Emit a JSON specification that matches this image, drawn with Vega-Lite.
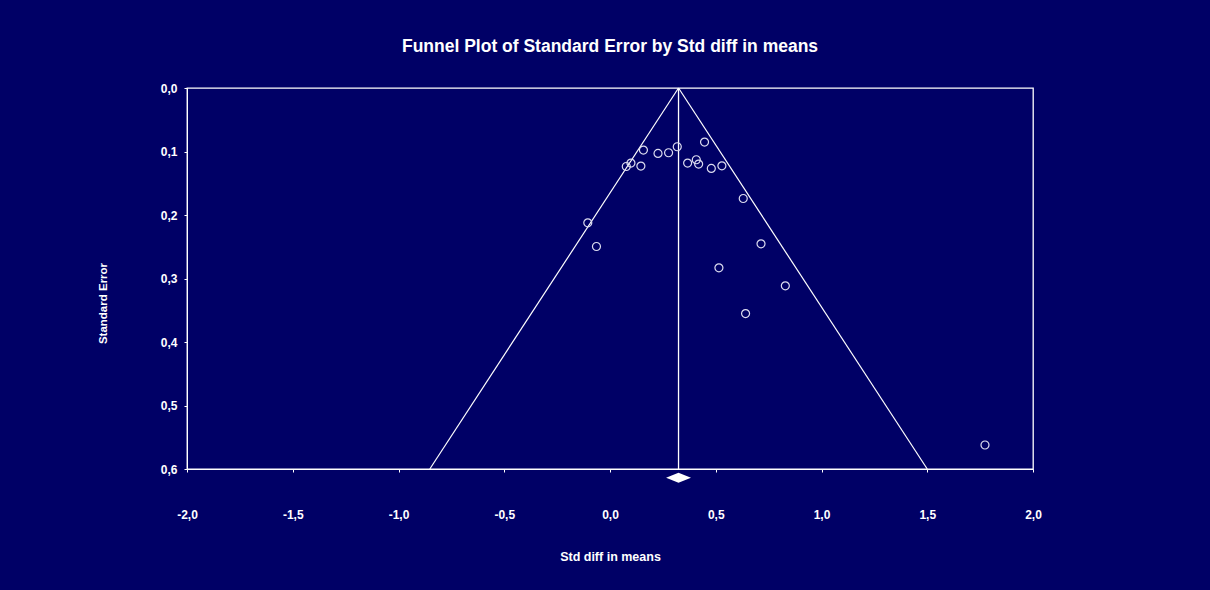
{
  "$schema": "https://vega.github.io/schema/vega-lite/v6.json",
  "width": 846,
  "height": 381,
  "autosize": {"type": "none"},
  "padding": {"left": 187, "top": 88, "right": 177, "bottom": 121},
  "background": "#000066",
  "title": {
    "text": "Funnel Plot of Standard Error by Std diff in means",
    "color": "white",
    "font": "Liberation Sans",
    "fontWeight": "bold",
    "fontSize": 17.5,
    "anchor": "middle",
    "frame": "group",
    "offset": 27
  },
  "config": {
    "view": {"stroke": "white", "strokeWidth": 1.3},
    "axis": {
      "grid": false,
      "domainColor": "white",
      "tickColor": "white",
      "labelColor": "white",
      "titleColor": "white",
      "labelFont": "Liberation Sans",
      "titleFont": "Liberation Sans",
      "labelFontWeight": "bold",
      "titleFontWeight": "bold",
      "labelFontSize": 12,
      "titleFontSize": 12.5,
      "tickSize": 3
    }
  },
  "datasets": {
    "studies": [
      {"smd": 0.158, "se": 0.0977},
      {"smd": 0.227, "se": 0.1031},
      {"smd": 0.277, "se": 0.1020},
      {"smd": 0.318, "se": 0.0925},
      {"smd": 0.447, "se": 0.0851},
      {"smd": 0.099, "se": 0.1182},
      {"smd": 0.077, "se": 0.1236},
      {"smd": 0.146, "se": 0.1229},
      {"smd": 0.367, "se": 0.1182},
      {"smd": 0.408, "se": 0.1130},
      {"smd": 0.419, "se": 0.1198},
      {"smd": 0.479, "se": 0.1267},
      {"smd": 0.529, "se": 0.1225},
      {"smd": 0.630, "se": 0.1740},
      {"smd": -0.105, "se": 0.2123},
      {"smd": -0.064, "se": 0.2496},
      {"smd": 0.714, "se": 0.2454},
      {"smd": 0.515, "se": 0.2832},
      {"smd": 0.829, "se": 0.3116},
      {"smd": 0.641, "se": 0.3552},
      {"smd": 1.773, "se": 0.5622}
    ],
    "funnel": [
      {"side": "left", "x": 0.324, "y": 0},
      {"side": "left", "x": -0.852, "y": 0.6},
      {"side": "right", "x": 0.324, "y": 0},
      {"side": "right", "x": 1.500, "y": 0.6}
    ],
    "mean": [
      {"x": 0.324, "y": 0, "y2": 0.6}
    ],
    "diamond": [
      {"x": 0.265, "y": 0.6137, "y2": 0.6137},
      {"x": 0.324, "y": 0.6058, "y2": 0.6216},
      {"x": 0.383, "y": 0.6137, "y2": 0.6137}
    ]
  },
  "layer": [
    {
      "data": {"name": "funnel"},
      "mark": {"type": "line", "color": "white", "strokeWidth": 1.2},
      "encoding": {
        "x": {
          "field": "x", "type": "quantitative",
          "scale": {"domain": [-2, 2], "nice": false, "zero": false},
          "axis": {
            "title": "Std diff in means",
            "values": [-2, -1.5, -1, -0.5, 0, 0.5, 1, 1.5, 2],
            "labelExpr": "replace(replace(format(datum.value, '.1f'), '.', ','), '\u2212', '-')",
            "labelPadding": 37,
            "titlePadding": 30,
            "tickSize": 3,
            "labelFlush": false
          }
        },
        "y": {
          "field": "y", "type": "quantitative",
          "scale": {"domain": [0, 0.6], "nice": false, "zero": false, "reverse": true},
          "axis": {
            "title": "Standard Error",
            "values": [0, 0.1, 0.2, 0.3, 0.4, 0.5, 0.6],
            "labelExpr": "replace(format(datum.value, '.1f'), '.', ',')",
            "labelPadding": 7,
            "titleX": -84,
            "titleY": 215,
            "titleAngle": -90,
            "titleAlign": "center",
            "titleBaseline": "middle",
            "titleFontSize": 11.5,
            "labelFlush": false
          }
        },
        "detail": {"field": "side"}
      }
    },
    {
      "data": {"name": "mean"},
      "mark": {"type": "rule", "color": "white", "strokeWidth": 1.3},
      "encoding": {
        "x": {"field": "x", "type": "quantitative"},
        "y": {"field": "y", "type": "quantitative"},
        "y2": {"field": "y2"}
      }
    },
    {
      "data": {"name": "diamond"},
      "mark": {"type": "area", "color": "white", "opacity": 1},
      "encoding": {
        "x": {"field": "x", "type": "quantitative"},
        "y": {"field": "y", "type": "quantitative"},
        "y2": {"field": "y2"}
      }
    },
    {
      "data": {"name": "studies"},
      "mark": {"type": "point", "shape": "circle", "filled": false, "color": "#dcdcf0", "size": 64, "strokeWidth": 1.2, "opacity": 1},
      "encoding": {
        "x": {"field": "smd", "type": "quantitative"},
        "y": {"field": "se", "type": "quantitative"}
      }
    }
  ]
}
